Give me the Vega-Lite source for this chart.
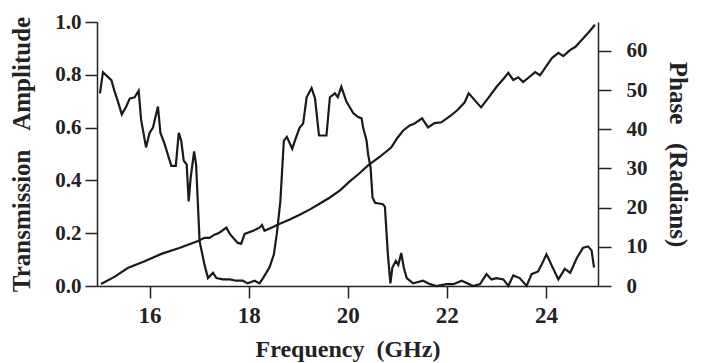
{
  "$schema": "https://vega.github.io/schema/vega-lite/v6.json",
  "width": 501,
  "height": 264,
  "autosize": "none",
  "padding": {"left": 97, "top": 22, "right": 104, "bottom": 77},
  "background": "white",
  "config": {
    "view": {"stroke": null},
    "axis": {
      "labelFont": "Liberation Serif",
      "titleFont": "Liberation Serif",
      "labelFontWeight": "bold",
      "titleFontWeight": "bold",
      "labelColor": "#222222",
      "titleColor": "#222222",
      "domainColor": "#222222",
      "tickColor": "#222222",
      "domainWidth": 1.5,
      "tickWidth": 1.5,
      "grid": false
    }
  },
  "datasets": {
    "amp": [
      {"f": 15.00, "a": 0.73}, {"f": 15.06, "a": 0.81}, {"f": 15.23, "a": 0.78}, {"f": 15.29, "a": 0.74},
      {"f": 15.36, "a": 0.70}, {"f": 15.44, "a": 0.65}, {"f": 15.53, "a": 0.68}, {"f": 15.60, "a": 0.71},
      {"f": 15.70, "a": 0.715}, {"f": 15.78, "a": 0.74}, {"f": 15.83, "a": 0.63}, {"f": 15.93, "a": 0.525},
      {"f": 16.00, "a": 0.58}, {"f": 16.07, "a": 0.60}, {"f": 16.17, "a": 0.68}, {"f": 16.22, "a": 0.58},
      {"f": 16.30, "a": 0.54}, {"f": 16.44, "a": 0.455}, {"f": 16.53, "a": 0.455}, {"f": 16.59, "a": 0.58},
      {"f": 16.64, "a": 0.55}, {"f": 16.69, "a": 0.475}, {"f": 16.75, "a": 0.46}, {"f": 16.79, "a": 0.32},
      {"f": 16.83, "a": 0.41}, {"f": 16.90, "a": 0.51}, {"f": 16.94, "a": 0.46}, {"f": 17.01, "a": 0.17},
      {"f": 17.11, "a": 0.08}, {"f": 17.18, "a": 0.03}, {"f": 17.28, "a": 0.05}, {"f": 17.35, "a": 0.03},
      {"f": 17.48, "a": 0.025}, {"f": 17.62, "a": 0.025}, {"f": 17.75, "a": 0.02}, {"f": 17.88, "a": 0.02},
      {"f": 17.98, "a": 0.01}, {"f": 18.12, "a": 0.02}, {"f": 18.22, "a": 0.01}, {"f": 18.29, "a": 0.03},
      {"f": 18.42, "a": 0.07}, {"f": 18.51, "a": 0.12}, {"f": 18.57, "a": 0.20}, {"f": 18.64, "a": 0.32},
      {"f": 18.71, "a": 0.55}, {"f": 18.77, "a": 0.565}, {"f": 18.88, "a": 0.52}, {"f": 18.96, "a": 0.565},
      {"f": 19.03, "a": 0.60}, {"f": 19.10, "a": 0.615}, {"f": 19.17, "a": 0.715}, {"f": 19.27, "a": 0.75},
      {"f": 19.34, "a": 0.71}, {"f": 19.42, "a": 0.57}, {"f": 19.57, "a": 0.57}, {"f": 19.64, "a": 0.715},
      {"f": 19.74, "a": 0.73}, {"f": 19.80, "a": 0.715}, {"f": 19.87, "a": 0.755}, {"f": 19.97, "a": 0.70},
      {"f": 20.11, "a": 0.655}, {"f": 20.21, "a": 0.64}, {"f": 20.28, "a": 0.635}, {"f": 20.31, "a": 0.60},
      {"f": 20.38, "a": 0.55}, {"f": 20.41, "a": 0.50}, {"f": 20.46, "a": 0.45}, {"f": 20.50, "a": 0.335},
      {"f": 20.55, "a": 0.315}, {"f": 20.71, "a": 0.31}, {"f": 20.75, "a": 0.30}, {"f": 20.81, "a": 0.12},
      {"f": 20.86, "a": 0.01}, {"f": 20.90, "a": 0.07}, {"f": 20.97, "a": 0.095}, {"f": 21.02, "a": 0.08},
      {"f": 21.08, "a": 0.125}, {"f": 21.13, "a": 0.07}, {"f": 21.19, "a": 0.03}, {"f": 21.32, "a": 0.01},
      {"f": 21.52, "a": 0.02}, {"f": 21.66, "a": 0.007}, {"f": 21.79, "a": 0.0}, {"f": 21.99, "a": 0.007},
      {"f": 22.13, "a": 0.007}, {"f": 22.30, "a": 0.02}, {"f": 22.53, "a": 0.0}, {"f": 22.67, "a": 0.007},
      {"f": 22.80, "a": 0.045}, {"f": 22.90, "a": 0.025}, {"f": 23.00, "a": 0.03}, {"f": 23.14, "a": 0.025},
      {"f": 23.24, "a": 0.0}, {"f": 23.34, "a": 0.04}, {"f": 23.47, "a": 0.03}, {"f": 23.61, "a": 0.0},
      {"f": 23.71, "a": 0.045}, {"f": 23.84, "a": 0.055}, {"f": 23.91, "a": 0.08}, {"f": 24.01, "a": 0.12},
      {"f": 24.11, "a": 0.08}, {"f": 24.25, "a": 0.025}, {"f": 24.38, "a": 0.065}, {"f": 24.49, "a": 0.05},
      {"f": 24.62, "a": 0.105}, {"f": 24.75, "a": 0.145}, {"f": 24.85, "a": 0.15}, {"f": 24.92, "a": 0.135},
      {"f": 24.97, "a": 0.07}
    ],
    "phase": [
      {"f": 15.02, "p": 0.5}, {"f": 15.30, "p": 2.4}, {"f": 15.56, "p": 4.6}, {"f": 15.90, "p": 6.3},
      {"f": 16.24, "p": 8.2}, {"f": 16.60, "p": 9.7}, {"f": 16.98, "p": 11.5},
      {"f": 17.11, "p": 12.3}, {"f": 17.21, "p": 12.3}, {"f": 17.31, "p": 13.1}, {"f": 17.41, "p": 13.6},
      {"f": 17.55, "p": 14.9}, {"f": 17.62, "p": 13.3}, {"f": 17.78, "p": 11.0}, {"f": 17.85, "p": 10.8},
      {"f": 17.92, "p": 13.3}, {"f": 18.09, "p": 14.1}, {"f": 18.22, "p": 14.9}, {"f": 18.27, "p": 15.6},
      {"f": 18.32, "p": 14.1}, {"f": 18.46, "p": 14.9}, {"f": 18.63, "p": 15.9}, {"f": 18.83, "p": 17.0},
      {"f": 19.03, "p": 18.2}, {"f": 19.23, "p": 19.5},
      {"f": 19.43, "p": 21.0}, {"f": 19.64, "p": 22.6}, {"f": 19.85, "p": 24.5}, {"f": 20.04, "p": 26.7},
      {"f": 20.22, "p": 28.6}, {"f": 20.41, "p": 30.8}, {"f": 20.65, "p": 33.0},
      {"f": 20.88, "p": 35.4}, {"f": 21.00, "p": 37.8}, {"f": 21.12, "p": 39.7}, {"f": 21.25, "p": 41.0}, {"f": 21.35, "p": 41.5},
      {"f": 21.50, "p": 42.8}, {"f": 21.62, "p": 40.5}, {"f": 21.75, "p": 41.6}, {"f": 21.89, "p": 41.8}, {"f": 22.09, "p": 43.6},
      {"f": 22.22, "p": 45.0}, {"f": 22.36, "p": 46.9}, {"f": 22.44, "p": 49.2}, {"f": 22.69, "p": 45.6}, {"f": 22.83, "p": 47.9},
      {"f": 23.00, "p": 50.8}, {"f": 23.17, "p": 53.3}, {"f": 23.24, "p": 54.4}, {"f": 23.34, "p": 52.6},
      {"f": 23.44, "p": 53.3}, {"f": 23.54, "p": 52.1}, {"f": 23.64, "p": 53.1}, {"f": 23.78, "p": 54.6},
      {"f": 23.88, "p": 53.8}, {"f": 23.98, "p": 55.6}, {"f": 24.12, "p": 58.2}, {"f": 24.25, "p": 59.5},
      {"f": 24.35, "p": 58.7}, {"f": 24.49, "p": 60.3}, {"f": 24.59, "p": 61.0}, {"f": 24.72, "p": 62.8},
      {"f": 24.85, "p": 64.6}, {"f": 24.99, "p": 66.7}
    ]
  },
  "layer": [
    {
      "data": {"name": "amp"},
      "mark": {"type": "line", "color": "#1a1a1a", "strokeWidth": 2.2},
      "encoding": {
        "x": {
          "field": "f", "type": "quantitative",
          "scale": {"domain": [14.94, 25.05], "nice": false, "zero": false},
          "axis": {
            "title": "Frequency\u00a0\u00a0(GHz)", "values": [16, 18, 20, 22, 24],
            "labelFontSize": 23, "titleFontSize": 24, "tickSize": 12,
            "labelPadding": 6, "titlePadding": 10
          }
        },
        "y": {
          "field": "a", "type": "quantitative",
          "scale": {"domain": [0, 1], "nice": false},
          "axis": {
            "title": "Transmission\u00a0\u00a0\u00a0Amplitude", "orient": "left",
            "values": [0, 0.2, 0.4, 0.6, 0.8, 1.0], "format": ".1f",
            "labelFontSize": 21, "titleFontSize": 25, "tickSize": 12,
            "labelPadding": 4, "titlePadding": 20
          }
        }
      }
    },
    {
      "data": {"name": "phase"},
      "mark": {"type": "line", "color": "#1a1a1a", "strokeWidth": 2.2},
      "encoding": {
        "x": {"field": "f", "type": "quantitative"},
        "y": {
          "field": "p", "type": "quantitative",
          "scale": {"domain": [0, 67.4], "nice": false},
          "axis": {
            "title": "Phase\u00a0\u00a0\u00a0(Radians)", "orient": "right",
            "values": [0, 10, 20, 30, 40, 50, 60],
            "labelFontSize": 21, "titleFontSize": 25, "tickSize": 13,
            "labelPadding": 15, "titlePadding": 17
          }
        }
      }
    }
  ],
  "resolve": {"scale": {"y": "independent"}}
}
